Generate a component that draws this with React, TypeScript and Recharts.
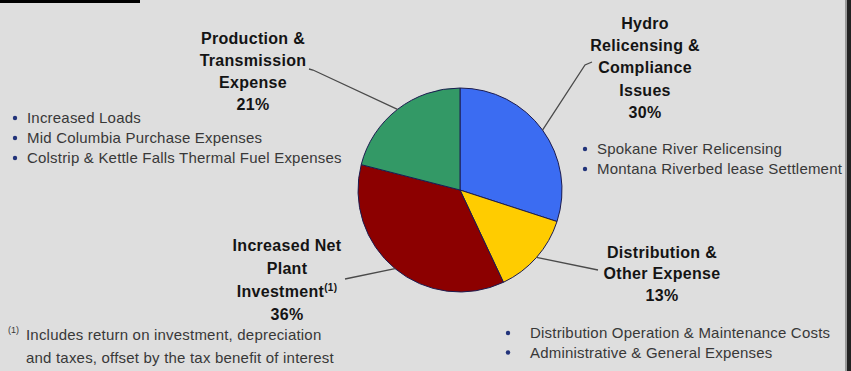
import React from "react";
import { Cell, Pie, PieChart } from "recharts";

// slices in clockwise order from 12 o'clock
const categories = [
  "Hydro\nRelicensing &\nCompliance\nIssues",
  "Distribution &\nOther Expense",
  "Increased Net\nPlant\nInvestment",
  "Production &\nTransmission\nExpense",
];
const shares = [30, 13, 36, 21];
const footnoteRefs = ["", "", "(1)", ""];
const bullets = [
  ["Spokane River Relicensing", "Montana Riverbed lease Settlement"],
  ["Distribution Operation & Maintenance Costs", "Administrative & General Expenses"],
  [],
  ["Increased Loads", "Mid Columbia Purchase Expenses", "Colstrip & Kettle Falls Thermal Fuel Expenses"],
];
const footnote = [
  "Includes return on investment, depreciation",
  "and taxes, offset by the tax benefit of interest",
];

const colors = ["#3b6cf2", "#ffcc00", "#8c0000", "#339966"];

// label placement (annotation layout only)
const layout = [
  { leader: [[585, 65], [592, 62]], cx: 645, y0: 23, step: 22.3, bx: 585, by: 149, bstep: 20 },
  { leader: [[598, 270]], cx: 662, y0: 252, step: 21.5, bx: 508, by: 333, bstep: 19.5 },
  { leader: [[345, 279]], cx: 287, y0: 245, step: 23, bx: 0, by: 0, bstep: 0 },
  { leader: [[313, 70], [309, 69]], cx: 253, y0: 38, step: 22, bx: 15, by: 118, bstep: 20 },
];

const data = categories.map((name, i) => ({ name, value: shares[i] }));
const RADIAN = Math.PI / 180;
const FONT = "'Liberation Sans', Arial, sans-serif";

const renderLabel = (props: any) => {
  const { cx, cy, midAngle, outerRadius, index, name, value } = props;
  const l = layout[index];
  const ex = cx + outerRadius * Math.cos(-midAngle * RADIAN);
  const ey = cy + outerRadius * Math.sin(-midAngle * RADIAN);
  const pts = [[ex, ey], ...l.leader].map((p) => p.join(",")).join(" ");
  const lines = String(name).split("\n");
  lines.push(`${value}%`);
  const bx = l.bx;
  return (
    <g>
      <polyline points={pts} fill="none" stroke="#4a4a4a" strokeWidth={1.3} />
      {lines.map((t, k) => (
        <text
          key={k}
          x={l.cx}
          y={l.y0 + k * l.step + 5.6}
          textAnchor="middle"
          fontFamily={FONT}
          fontWeight="bold"
          fontSize={16}
          letterSpacing={0.3}
          fill="#141414"
        >
          {t}
          {k === lines.length - 2 && footnoteRefs[index] ? (
            <tspan fontSize={10} dy={-6}>{footnoteRefs[index]}</tspan>
          ) : null}
        </text>
      ))}
      {bullets[index].map((b, k) => (
        <g key={"b" + k}>
          <circle cx={bx} cy={l.by + k * l.bstep} r={2.2} fill="#22337a" />
          <text
            x={bx + (index === 1 ? 22 : 12)}
            y={l.by + k * l.bstep + 5.2}
            fontFamily={FONT}
            fontSize={15}
            letterSpacing={0.2}
            fill="#383838"
          >
            {b}
          </text>
        </g>
      ))}
    </g>
  );
};

export default function App() {
  return (
    <div
      style={{
        position: "absolute",
        left: 0,
        top: 0,
        width: 851,
        height: 371,
        background: "#dedede",
        overflow: "hidden",
      }}
    >
      <div style={{ position: "absolute", left: 0, top: 0, width: 140, height: 3, background: "#000" }} />
      <div style={{ position: "absolute", left: 845, top: 0, width: 2, height: 371, background: "#9a9a9a" }} />
      <div style={{ position: "absolute", left: 847, top: 0, width: 4, height: 371, background: "#222" }} />
      <PieChart width={851} height={371} margin={{ top: 0, right: 0, bottom: 0, left: 0 }}>
        <Pie
          data={data}
          dataKey="value"
          nameKey="name"
          cx={460}
          cy={190}
          outerRadius={102}
          startAngle={90}
          endAngle={-270}
          stroke="#1c1c50"
          strokeWidth={1}
          label={renderLabel}
          labelLine={false}
          isAnimationActive={false}
        >
          {data.map((d, i) => (
            <Cell key={d.name} fill={colors[i]} />
          ))}
        </Pie>
      </PieChart>
      <svg
        width={851}
        height={371}
        style={{ position: "absolute", left: 0, top: 0, pointerEvents: "none" }}
      >
        <text x={8} y={333} fontFamily={FONT} fontSize={9} fill="#383838">
          (1)
        </text>
        {footnote.map((t, k) => (
          <text
            key={k}
            x={26}
            y={335 + k * 23 + 5.2}
            fontFamily={FONT}
            fontSize={15}
            letterSpacing={0.2}
            fill="#383838"
          >
            {t}
          </text>
        ))}
      </svg>
    </div>
  );
}
